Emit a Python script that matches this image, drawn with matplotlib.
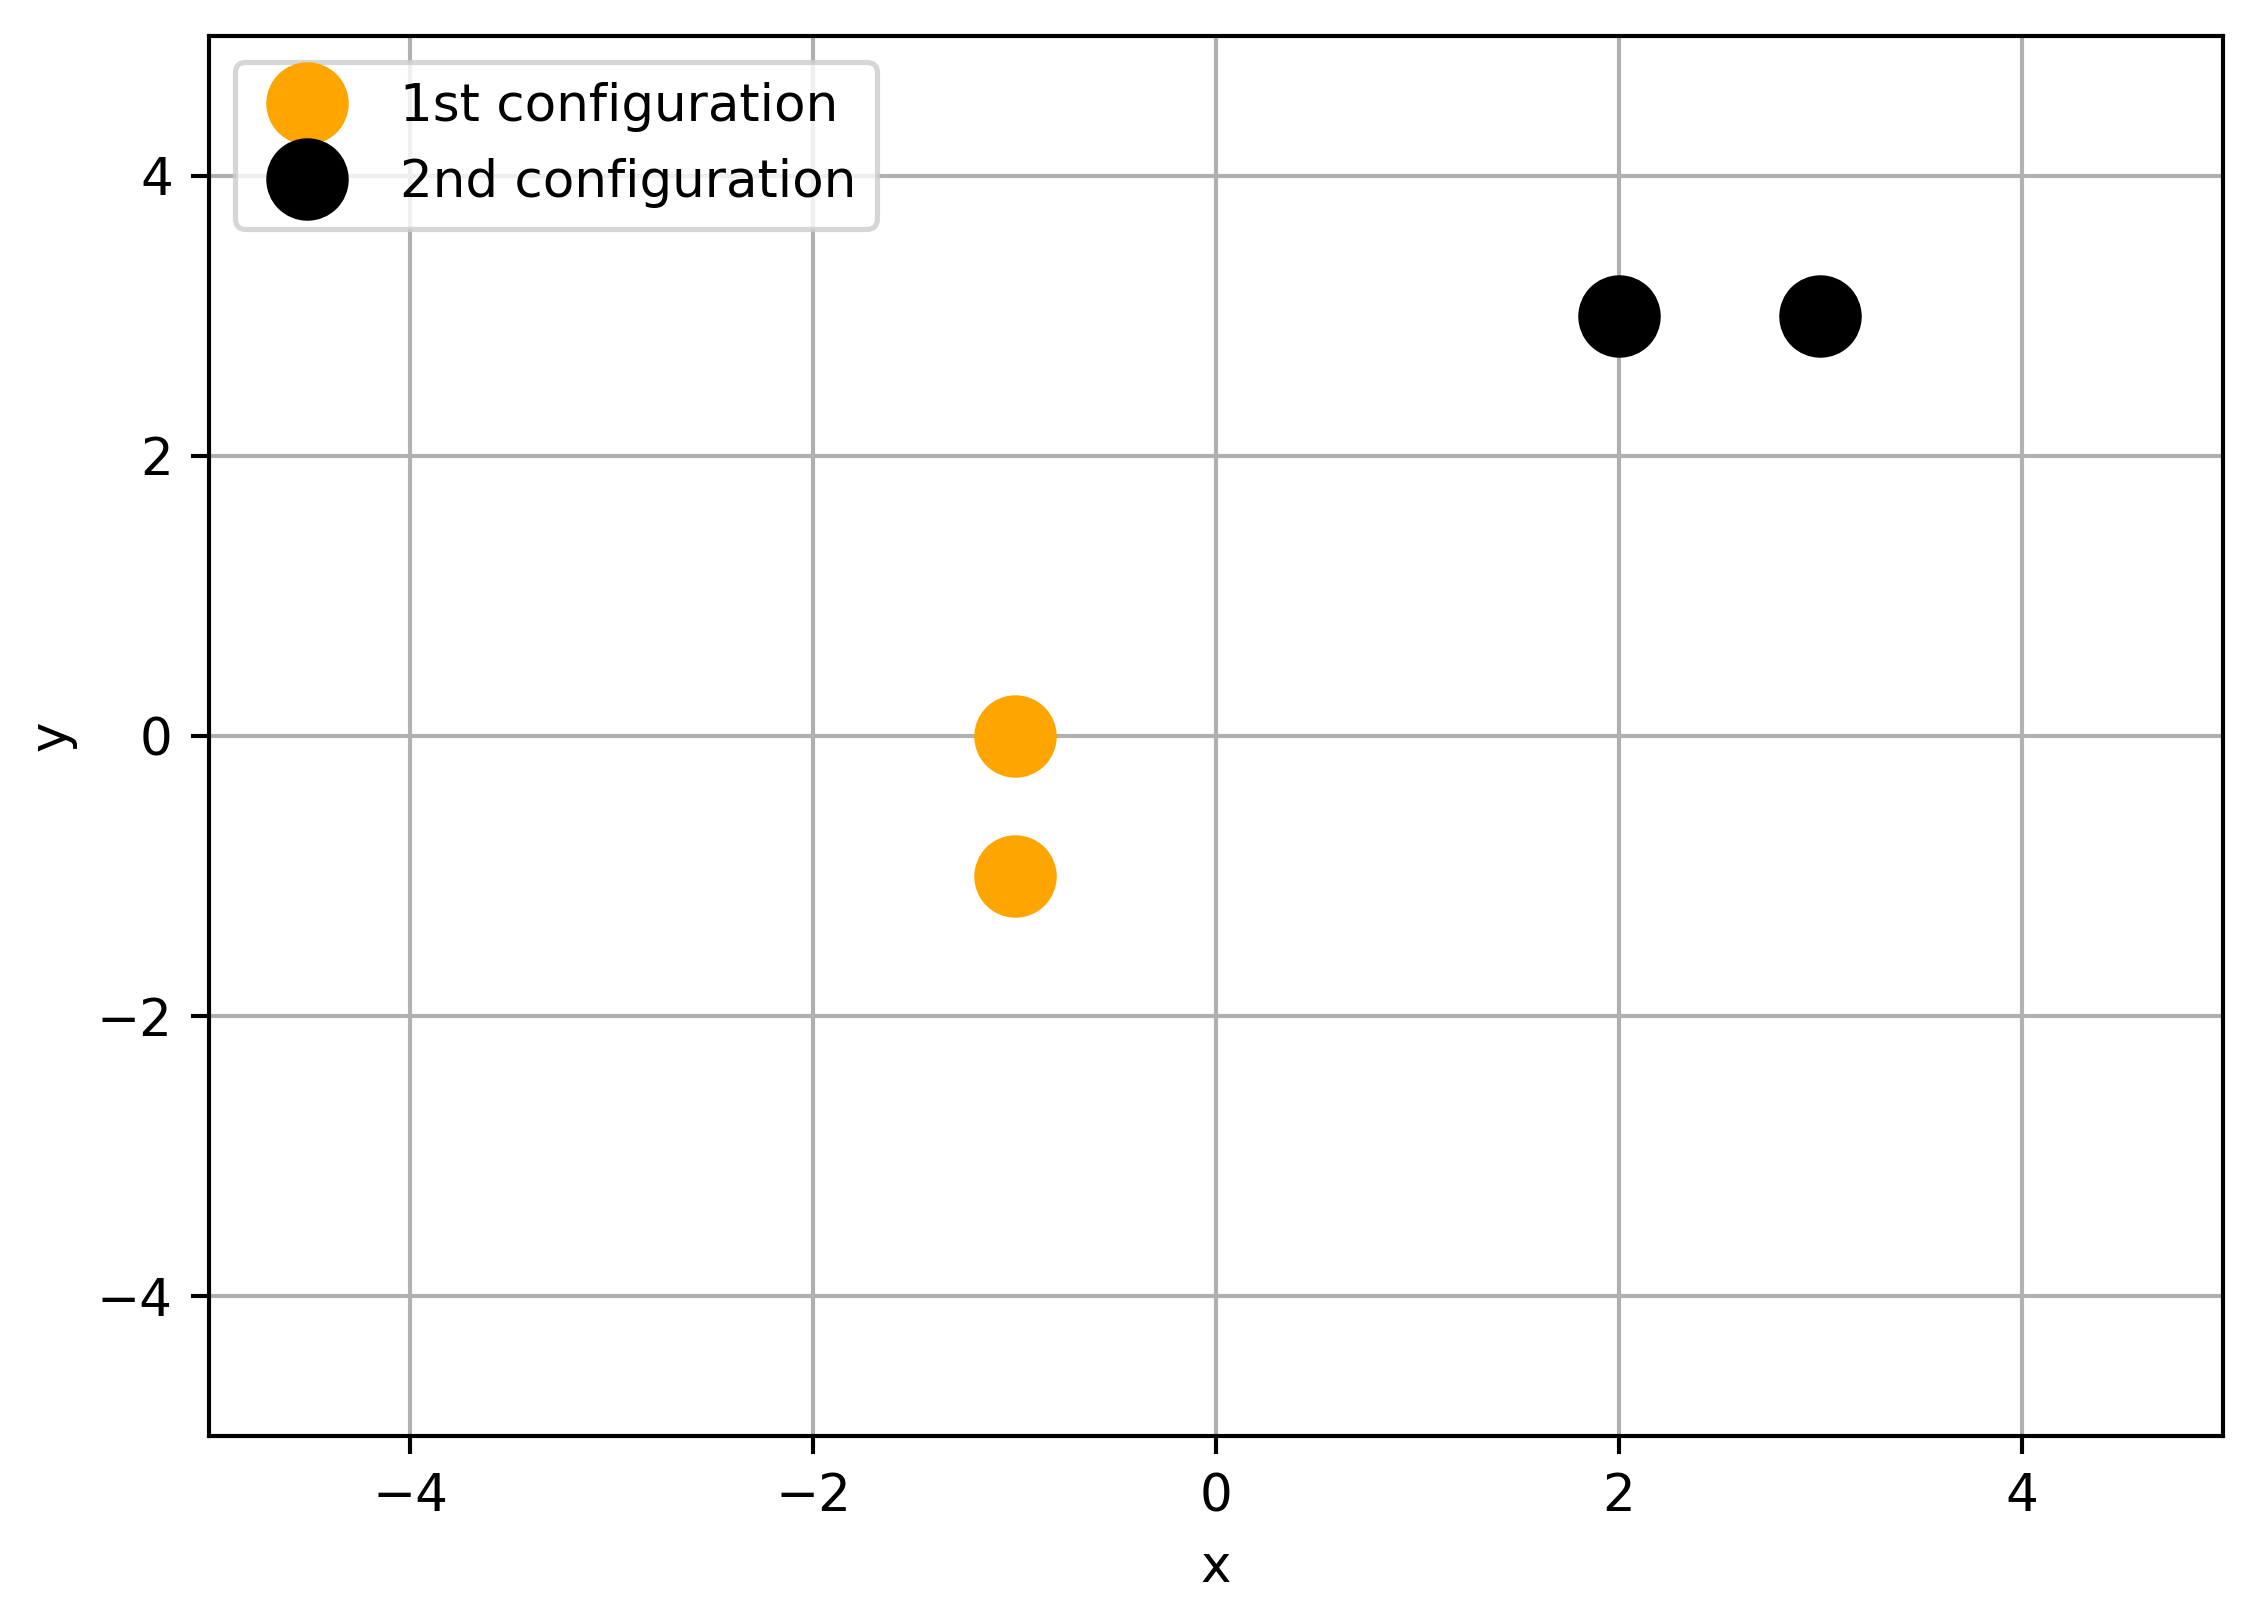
import matplotlib.pyplot as plt
import numpy as np

x1 = np.array([-1, -1])
y1 = np.array([0, -1])
x2 = np.array([2, 3])
y2 = np.array([3, 3])

dpi = 371
fig = plt.figure(figsize=(2256 / dpi, 1619 / dpi), dpi=dpi)
ax = fig.add_axes([0.0926, 0.113, 0.8928, 0.8648])

ax.plot(x1, y1, "o", color="orange", markersize=15, label="1st configuration")
ax.plot(x2, y2, "o", color="black", markersize=15, label="2nd configuration")
ax.set_xlim(-5, 5)
ax.set_ylim(-5, 5)
ax.set_xlabel("x")
ax.set_ylabel("y")
ax.grid(True)
ax.legend(loc="upper left")

fig.savefig("out.png", dpi=dpi)
